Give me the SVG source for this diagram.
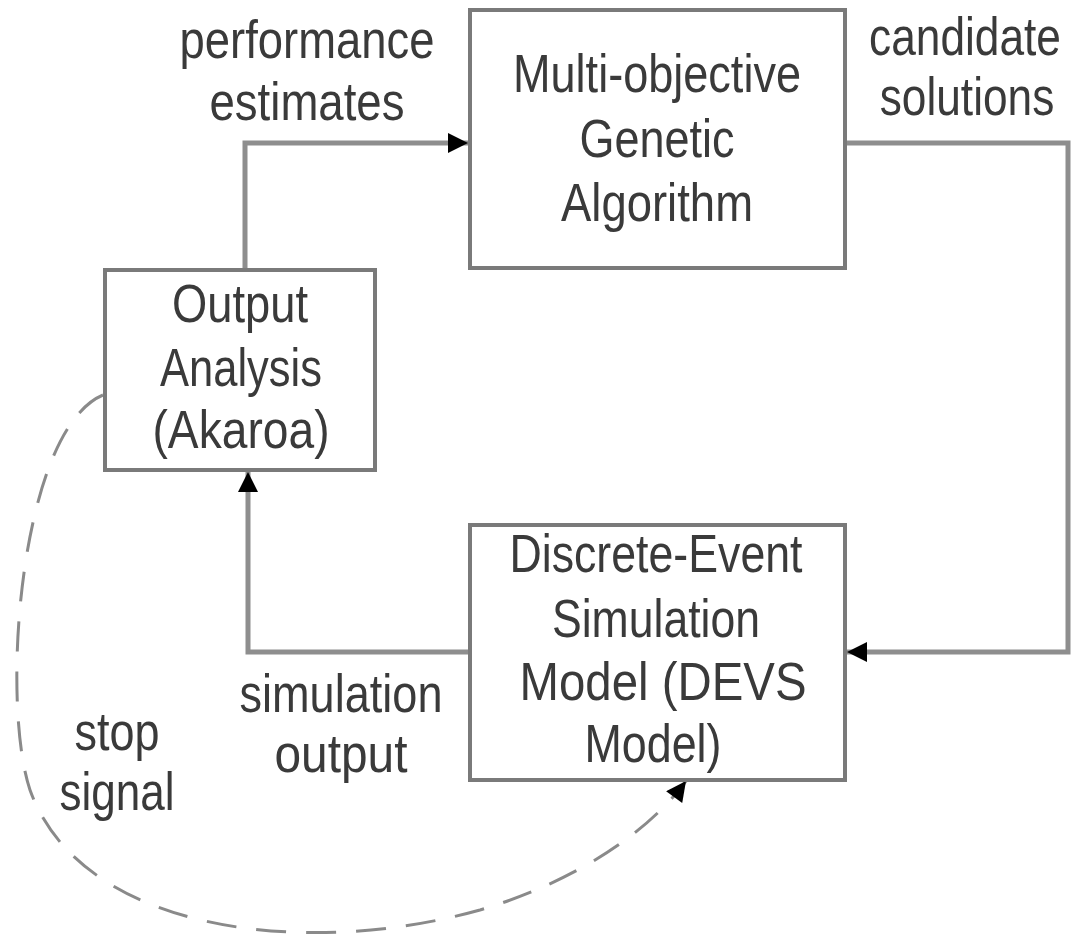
<svg xmlns="http://www.w3.org/2000/svg" width="1073" height="942" viewBox="0 0 1073 942">
<style>
.box{fill:#fff;stroke:#7a7a7a;stroke-width:4}
.t{font-family:"Liberation Sans",Arial,sans-serif;font-size:54px;fill:#3a3a3a;text-anchor:middle}
.c{fill:none;stroke:#8e8e8e;stroke-width:5}
.d{fill:none;stroke:#8a8a8a;stroke-width:3;stroke-dasharray:30 20}
</style>
<defs>
<marker id="ah" viewBox="0 0 10 10" refX="10" refY="5" markerWidth="24" markerHeight="20" markerUnits="userSpaceOnUse" orient="auto">
<path d="M0 0 L10 5 L0 10 Z" fill="#000"/>
</marker>
</defs>
<g id="connectors">
<path class="c" d="M245 270 V143 H468" marker-end="url(#ah)"/>
<path class="c" d="M845 143 H1068 V652 H847" marker-end="url(#ah)"/>
<path class="c" d="M470 652 H248 V472" marker-end="url(#ah)"/>
<path class="d" d="M103 395 C20 430 0 700 30 790 C80 930 300 960 480 910 C580 880 650 830 686 781" marker-end="url(#ah)"/>
</g>
<g id="ga">
<rect class="box" x="470" y="10" width="375" height="258"/>
<text class="t" x="657" y="92" textLength="288" lengthAdjust="spacingAndGlyphs">Multi-objective</text>
<text class="t" x="657" y="157" textLength="155" lengthAdjust="spacingAndGlyphs">Genetic</text>
<text class="t" x="657" y="221" textLength="192" lengthAdjust="spacingAndGlyphs">Algorithm</text>
</g>
<g id="output">
<rect class="box" x="105" y="270" width="270" height="200"/>
<text class="t" x="240" y="322" textLength="136" lengthAdjust="spacingAndGlyphs">Output</text>
<text class="t" x="241" y="386" textLength="162" lengthAdjust="spacingAndGlyphs">Analysis</text>
<text class="t" x="241" y="448" textLength="177" lengthAdjust="spacingAndGlyphs">(Akaroa)</text>
</g>
<g id="devs">
<rect class="box" x="470" y="525" width="375" height="255"/>
<text class="t" x="656" y="572" textLength="293" lengthAdjust="spacingAndGlyphs">Discrete-Event</text>
<text class="t" x="656" y="637" textLength="208" lengthAdjust="spacingAndGlyphs">Simulation</text>
<text class="t" x="663" y="700" textLength="287" lengthAdjust="spacingAndGlyphs">Model (DEVS</text>
<text class="t" x="653" y="762" textLength="137" lengthAdjust="spacingAndGlyphs">Model)</text>
</g>
<g id="labels">
<text class="t" x="307" y="58" textLength="255" lengthAdjust="spacingAndGlyphs">performance</text>
<text class="t" x="307" y="120" textLength="195" lengthAdjust="spacingAndGlyphs">estimates</text>
<text class="t" transform="translate(965 55) scale(0.82 1)">candidate</text>
<text class="t" transform="translate(967 115) scale(0.82 1)">solutions</text>
<text class="t" x="341" y="712" textLength="203" lengthAdjust="spacingAndGlyphs">simulation</text>
<text class="t" x="341" y="772" textLength="133" lengthAdjust="spacingAndGlyphs">output</text>
<text class="t" x="117" y="750" textLength="85" lengthAdjust="spacingAndGlyphs">stop</text>
<text class="t" x="117" y="810" textLength="115" lengthAdjust="spacingAndGlyphs">signal</text>
</g>
</svg>
